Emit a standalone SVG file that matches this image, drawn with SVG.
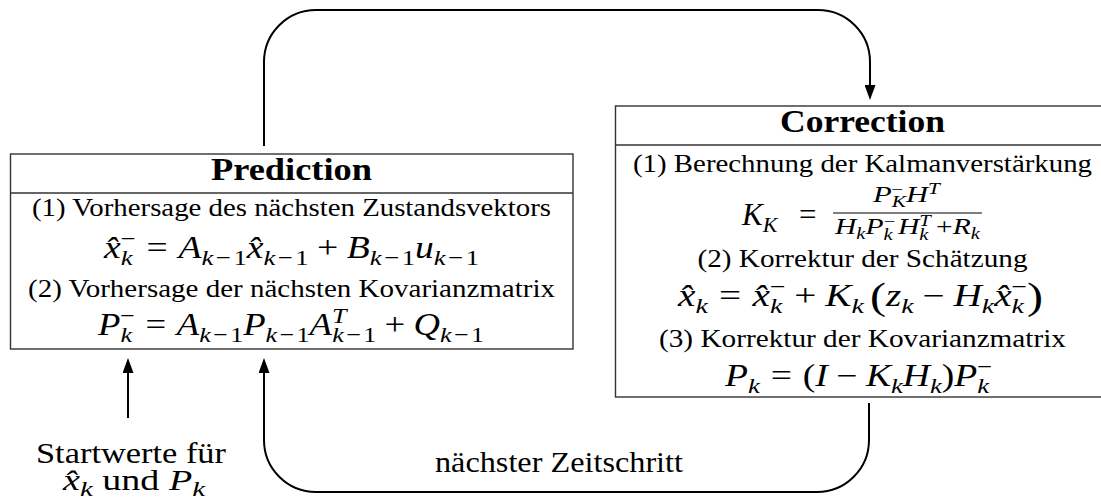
<svg xmlns="http://www.w3.org/2000/svg" width="1101" height="501" viewBox="0 0 1101 501">
<style>
.f{font-family:"Liberation Serif","Times New Roman",serif;font-size:26px;fill:#000}
.m{font-size:31px}
.h{font-weight:bold;font-size:31px}
.l{font-size:29px}
.i{font-style:italic}
.s{font-size:22px}
.ss{font-size:23px}
.xs{font-size:16px}
.box{fill:#fff;stroke:#333;stroke-width:1.4}
.sep{stroke:#333;stroke-width:1.4}
.con{fill:none;stroke:#000;stroke-width:2}
</style>
<defs>
<marker id="ah" markerUnits="userSpaceOnUse" markerWidth="15" markerHeight="11" viewBox="0 0 15 11" refX="2" refY="5.5" orient="auto">
<path d="M0,0 L15,5.5 L0,11 z" fill="#000"/>
</marker>
</defs>
<g id="connectors">
<path class="con" d="M264,146 V62 A52,52 0 0 1 316,10 H818 A52,52 0 0 1 870,62 V87" marker-end="url(#ah)"/>
<path class="con" d="M869,403 V440 A52,52 0 0 1 817,492 H316 A52,52 0 0 1 264,440 V371" marker-end="url(#ah)"/>
<path class="con" d="M128,418 V371" marker-end="url(#ah)"/>
</g>
<g id="prediction">
<rect class="box" x="10.5" y="154" width="562.5" height="195"/>
<line class="sep" x1="10.5" y1="193" x2="573" y2="193"/>
<text class="f h" x="291.5" y="180" text-anchor="middle" textLength="161" lengthAdjust="spacingAndGlyphs">Prediction</text>
<text class="f" x="291.5" y="216" text-anchor="middle" textLength="519" lengthAdjust="spacingAndGlyphs">(1) Vorhersage des nächsten Zustandsvektors</text>
<text class="f m" x="104" y="258" textLength="375" lengthAdjust="spacingAndGlyphs"><tspan class="i">x̂</tspan><tspan class="s i" y="265">k</tspan><tspan class="s" dx="-10" y="246">−</tspan><tspan y="258" dx="9">=</tspan><tspan class="i" dx="9">A</tspan><tspan class="s" y="265"><tspan class="i">k</tspan><tspan dx="2">−</tspan><tspan dx="2">1</tspan></tspan><tspan class="i" y="258">x̂</tspan><tspan class="s" y="265"><tspan class="i">k</tspan><tspan dx="2">−</tspan><tspan dx="2">1</tspan></tspan><tspan y="258" dx="7">+</tspan><tspan class="i" dx="7">B</tspan><tspan class="s" y="265"><tspan class="i">k</tspan><tspan dx="2">−</tspan><tspan dx="2">1</tspan></tspan><tspan class="i" y="258">u</tspan><tspan class="s" y="265"><tspan class="i">k</tspan><tspan dx="2">−</tspan><tspan dx="2">1</tspan></tspan></text>
<text class="f" x="291.5" y="297" text-anchor="middle" textLength="527" lengthAdjust="spacingAndGlyphs">(2) Vorhersage der nächsten Kovarianzmatrix</text>
<text class="f m" x="98" y="335" textLength="386" lengthAdjust="spacingAndGlyphs"><tspan class="i">P</tspan><tspan class="s i" y="342">k</tspan><tspan class="s" dx="-10" y="323">−</tspan><tspan y="335" dx="9">=</tspan><tspan class="i" dx="9">A</tspan><tspan class="s" y="342"><tspan class="i">k</tspan><tspan dx="2">−</tspan><tspan dx="2">1</tspan></tspan><tspan class="i" y="335">P</tspan><tspan class="s" y="342"><tspan class="i">k</tspan><tspan dx="2">−</tspan><tspan dx="2">1</tspan></tspan><tspan class="i" y="335">A</tspan><tspan class="s i" y="323">T</tspan><tspan class="s" dx="-12" y="342"><tspan class="i">k</tspan><tspan dx="2">−</tspan><tspan dx="2">1</tspan></tspan><tspan y="335" dx="7">+</tspan><tspan class="i" dx="7">Q</tspan><tspan class="s" y="342"><tspan class="i">k</tspan><tspan dx="2">−</tspan><tspan dx="2">1</tspan></tspan></text>
</g>
<g id="correction">
<rect class="box" x="615.5" y="106" width="500" height="291"/>
<line class="sep" x1="615.5" y1="145" x2="1101" y2="145"/>
<text class="f h" x="862.5" y="132" text-anchor="middle" textLength="165" lengthAdjust="spacingAndGlyphs">Correction</text>
<text class="f" x="862.5" y="172" text-anchor="middle" textLength="459" lengthAdjust="spacingAndGlyphs">(1) Berechnung der Kalmanverstärkung</text>
<text class="f m"><tspan class="i" x="742" y="225">K</tspan><tspan class="s i" y="232">K</tspan><tspan x="799" y="225">=</tspan></text>
<text class="f ss" x="873" y="202" textLength="67" lengthAdjust="spacingAndGlyphs"><tspan class="i">P</tspan><tspan class="xs i" y="207">K</tspan><tspan class="xs" dx="-11" y="195">−</tspan><tspan class="i" y="202" dx="2">H</tspan><tspan class="xs i" y="194">T</tspan></text>
<line x1="833" y1="213" x2="982" y2="213" stroke="#000" stroke-width="1.2"/>
<text class="f ss" x="835" y="234" textLength="145" lengthAdjust="spacingAndGlyphs"><tspan class="i">H</tspan><tspan class="xs i" y="239">k</tspan><tspan class="i" y="234">P</tspan><tspan class="xs i" y="240">k</tspan><tspan class="xs" dx="-7" y="227">−</tspan><tspan class="i" y="234" dx="2">H</tspan><tspan class="xs i" y="226">T</tspan><tspan class="xs i" dx="-9" y="240">k</tspan><tspan y="234" dx="6">+</tspan><tspan class="i">R</tspan><tspan class="xs i" y="239">k</tspan></text>
<text class="f" x="862.5" y="267" text-anchor="middle" textLength="330" lengthAdjust="spacingAndGlyphs">(2) Korrektur der Schätzung</text>
<text class="f m" x="678" y="306" textLength="365" lengthAdjust="spacingAndGlyphs"><tspan class="i">x̂</tspan><tspan class="s i" y="313">k</tspan><tspan y="306" dx="9">=</tspan><tspan class="i" dx="9">x̂</tspan><tspan class="s i" y="313">k</tspan><tspan class="s" dx="-10" y="294">−</tspan><tspan y="306" dx="7">+</tspan><tspan class="i" dx="7">K</tspan><tspan class="s i" y="313">k</tspan><tspan y="309" font-size="38" dx="5">(</tspan><tspan class="i" y="306">z</tspan><tspan class="s i" y="313">k</tspan><tspan y="306" dx="7">−</tspan><tspan class="i" dx="7">H</tspan><tspan class="s i" y="313">k</tspan><tspan class="i" y="306">x̂</tspan><tspan class="s i" y="313">k</tspan><tspan class="s" dx="-10" y="294">−</tspan><tspan y="309" font-size="38">)</tspan></text>
<text class="f" x="862.5" y="347" text-anchor="middle" textLength="407" lengthAdjust="spacingAndGlyphs">(3) Korrektur der Kovarianzmatrix</text>
<text class="f m" x="725" y="386" textLength="267" lengthAdjust="spacingAndGlyphs"><tspan class="i">P</tspan><tspan class="s i" y="393">k</tspan><tspan y="386" dx="9">=</tspan><tspan dx="9">(</tspan><tspan class="i">I</tspan><tspan dx="7">−</tspan><tspan class="i" dx="7">K</tspan><tspan class="s i" y="393">k</tspan><tspan class="i" y="386">H</tspan><tspan class="s i" y="393">k</tspan><tspan y="386">)</tspan><tspan class="i">P</tspan><tspan class="s i" y="393">k</tspan><tspan class="s" dx="-10" y="374">−</tspan></text>
</g>
<g id="start">
<text class="f l" x="131" y="463" text-anchor="middle" textLength="190" lengthAdjust="spacingAndGlyphs">Startwerte für</text>
<text class="f l" x="63" y="490" textLength="142" lengthAdjust="spacingAndGlyphs"><tspan class="i">x̂</tspan><tspan class="s i" y="496">k</tspan><tspan y="490"> und </tspan><tspan class="i">P</tspan><tspan class="s i" y="496">k</tspan></text>
</g>
<g id="label">
<text class="f l" x="559" y="472" text-anchor="middle" textLength="248" lengthAdjust="spacingAndGlyphs">nächster Zeitschritt</text>
</g>
</svg>
